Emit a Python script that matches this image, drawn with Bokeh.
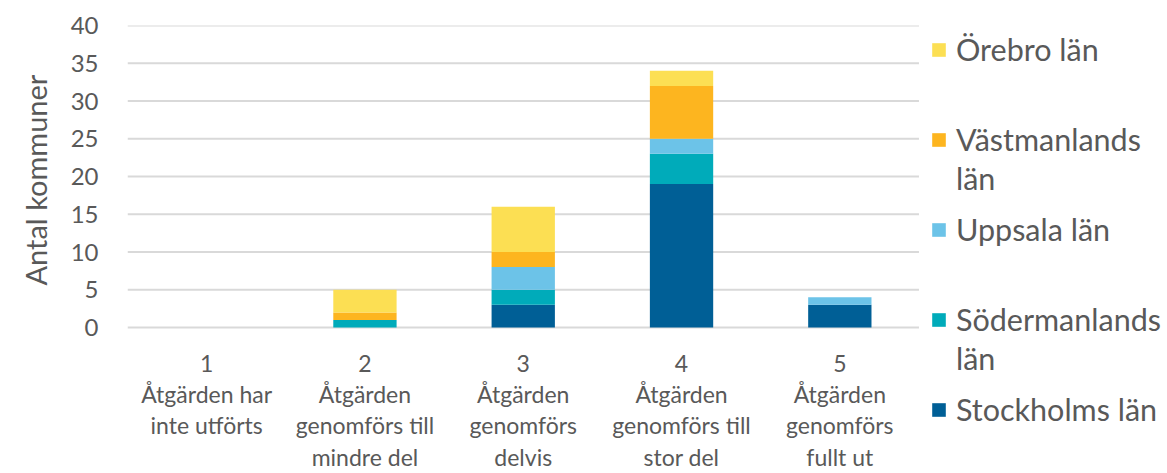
from bokeh.plotting import figure
from bokeh.models import Legend, LegendItem, FixedTicker, Title
from bokeh.core.properties import value
from bokeh.embed import file_html
from bokeh.resources import INLINE

categories = [
    "1\nÅtgärden har\ninte utförts",
    "2\nÅtgärden\ngenomförs till\nmindre del",
    "3\nÅtgärden\ngenomförs\ndelvis",
    "4\nÅtgärden\ngenomförs till\nstor del",
    "5\nÅtgärden\ngenomförs\nfullt ut",
]
x_pos = [1, 2, 3, 4, 5]
series_names = ["Stockholms län", "Södermanlands län", "Uppsala län", "Västmanlands län", "Örebro län"]
stockholm = [0, 0, 3, 19, 3]
sodermanland = [0, 1, 2, 4, 0]
uppsala = [0, 0, 3, 2, 1]
vastmanland = [0, 1, 2, 7, 0]
orebro = [0, 3, 6, 2, 0]
y_ticks = [0, 5, 10, 15, 20, 25, 30, 35, 40]
y_label = "Antal kommuner"
colors = ["#005F96", "#00ABBA", "#6CC3E8", "#FDB51F", "#FCDF53"]

FONT = "Lato"
TXT = "#595959"
GRID = "#D9D9D9"

data = dict(x=x_pos)
keys = ["s0", "s1", "s2", "s3", "s4"]
for k, v in zip(keys, [stockholm, sodermanland, uppsala, vastmanland, orebro]):
    data[k] = v

# layout (pixels)
W, H = 1165, 472
LEFT, TOP = 125, 25
ZERO_PX = 327          # page y of value 0
Y_MAX = 40
FRAME_W = W - LEFT
FRAME_H = H - TOP
PX_PER_UNIT = (ZERO_PX - TOP) / Y_MAX
y_start = Y_MAX - FRAME_H / PX_PER_UNIT
PLOT_W = 793  # pixel width of the bar area (5 categories)
x_start = 0.5
x_end = x_start + len(x_pos) * FRAME_W / PLOT_W

p = figure(width=W, height=H, x_range=(x_start, x_end), y_range=(y_start, Y_MAX),
           output_backend="svg", toolbar_location=None, x_axis_location=None,
           min_border_left=LEFT, min_border_top=TOP, min_border_bottom=0,
           min_border_right=0)
p.outline_line_color = None
p.xgrid.grid_line_color = None
p.ygrid.grid_line_color = None

# horizontal grid lines limited to the bar area
p.segment(x0=[x_start] * len(y_ticks), x1=[x_start + len(x_pos)] * len(y_ticks),
          y0=y_ticks, y1=y_ticks, line_color=GRID, line_width=2)

rs = p.vbar_stack(keys, x="x", width=0.4, color=colors, source=data, line_color=None)

# category labels below the zero line
LABEL_GAP_PX = 21
p.text(x=x_pos, y=[-LABEL_GAP_PX / PX_PER_UNIT] * len(x_pos), text=categories,
       text_font=value(FONT), text_font_size="23px", text_color=TXT,
       text_align="center", text_baseline="top", text_line_height=1.12)

# legend entries: (renderer index, first line, second line, first-line centre in page px)
entries = [
    (4, "Örebro län", None, 49),
    (3, "Västmanlands", "län", 139),
    (2, "Uppsala län", None, 229),
    (1, "Södermanlands", "län", 319),
    (0, "Stockholms län", None, 409),
]
ITEM_H = 37
GLYPH = 17
LEG_X = 928 - LEFT
SECOND = 39

def add_leg(label, r, center_page, glyph=True):
    lg = Legend(items=[LegendItem(label=label, renderers=[r])])
    lg.label_text_font = FONT
    lg.label_text_font_size = "30.5px"
    lg.label_text_color = TXT
    lg.glyph_width = GLYPH if glyph else 0
    lg.glyph_height = GLYPH
    lg.label_standoff = 9
    lg.label_height = ITEM_H
    lg.padding = 0
    lg.margin = 0
    lg.border_line_color = None
    lg.background_fill_alpha = 0
    lg.location = (LEG_X if glyph else LEG_X + GLYPH, (H - center_page) - ITEM_H / 2)
    p.add_layout(lg)

for idx, l1, l2, c in entries:
    add_leg(l1, rs[idx], c)
    if l2:
        add_leg(l2, rs[idx], c + SECOND, glyph=False)

p.yaxis.bounds = (0, Y_MAX)
p.yaxis.ticker = FixedTicker(ticks=y_ticks)
p.yaxis.major_label_text_font = FONT
p.yaxis.major_label_text_font_size = "24px"
p.yaxis.major_label_text_color = TXT
p.yaxis.major_label_standoff = 23
p.yaxis.axis_line_color = None
p.yaxis.major_tick_line_color = None
p.yaxis.minor_tick_line_color = None

# y-axis title, centred on the 0..40 value span (not the whole frame)
label_bottom_px = 285
ytitle = Title(text=y_label, align="left", offset=H - label_bottom_px,
               text_font=FONT, text_font_size="29px", text_font_style="normal",
               text_color=TXT, standoff=30)
p.add_layout(ytitle, "left")

open("out.html", "w").write(file_html(p, INLINE))
